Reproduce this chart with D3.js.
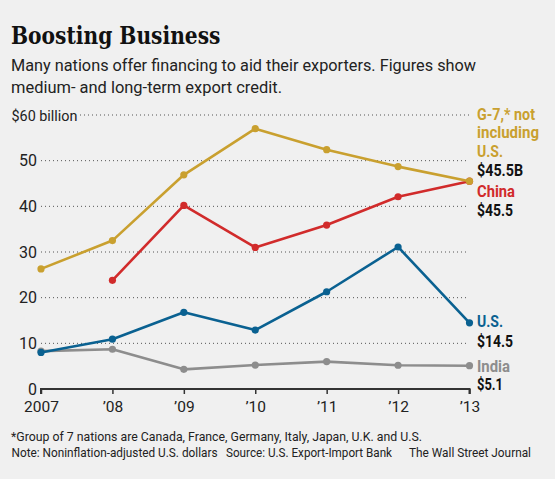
<!DOCTYPE html>
<html><head><meta charset="utf-8">
<script src="https://cdn.jsdelivr.net/npm/d3@7"></script>
<style>
body{margin:0;background:#f0f0f0;}
svg{display:block;}
text{font-family:Roboto,"Noto Sans",sans-serif;}
</style></head>
<body>
<svg id="c" width="555" height="479"></svg>
<script>
const years = [2007, 2008, 2009, 2010, 2011, 2012, 2013];
const yearLabels = ["2007", "’08", "’09", "’10", "’11", "’12", "’13"];
const g7 = [26.3, 32.5, 46.9, 57.0, 52.4, 48.7, 45.5];
const china = [null, 23.8, 40.2, 31.0, 35.9, 42.1, 45.5];
const us = [8.0, 10.9, 16.8, 12.9, 21.3, 31.1, 14.5];
const india = [8.3, 8.7, 4.3, 5.25, 6.0, 5.2, 5.1];
const yTicks = [0, 10, 20, 30, 40, 50, 60];
const endValues = ["$45.5B", "$45.5", "$14.5", "$5.1"];

const series = [
  {name:"G-7", values:g7, color:"#c9a02f"},
  {name:"China", values:china, color:"#d12b2b"},
  {name:"U.S.", values:us, color:"#0a6191"},
  {name:"India", values:india, color:"#8d8d8d"}
];

const svg = d3.select("#c");
svg.append("rect").attr("width",555).attr("height",479).attr("fill","#f0f0f0");

const x = d3.scaleLinear().domain([2007, 2013]).range([41, 469.5]);
const y = d3.scaleLinear().domain([0, 60]).range([389, 115]);

function txt(xp, yp, s, size, w, opts = {}) {
  const t = svg.append("text").attr("x", xp).attr("y", yp).text(s)
    .style("font-size", size + "px").attr("fill", opts.fill || "#222");
  if (opts.bold) t.style("font-weight", "bold");
  if (opts.family) t.style("font-family", opts.family);
  if (opts.anchor) t.attr("text-anchor", opts.anchor);
  if (w) t.attr("textLength", w).attr("lengthAdjust", "spacingAndGlyphs");
  return t;
}

// title + subtitle
txt(11, 43.5, "Boosting Business", 25, 209.5, {bold:true, family:"'DejaVu Serif',serif", fill:"#111"});
txt(11, 70.5, "Many nations offer financing to aid their exporters. Figures show", 16.5, 465);
txt(11, 92.5, "medium- and long-term export credit.", 16.5, 271);

// gridlines and y labels
yTicks.forEach(t => {
  if (t === 60) {
    txt(11.5, y(t) + 5.5, "$60 billion", 15.5, 66);
  } else {
    txt(37, y(t) + 5.5, String(t), 16, null, {anchor:"end"});
  }
  if (t > 0) {
    const x0 = t === 60 ? 80 : 41;
    svg.append("line").attr("x1", x0).attr("x2", 469).attr("y1", y(t)).attr("y2", y(t))
      .attr("stroke", "#555").attr("stroke-width", 1).attr("stroke-dasharray", "1,3");
  }
});

// x axis
const xAxis = d3.axisBottom(x).tickValues(years).tickSize(5).tickFormat((d,i)=>yearLabels[i]);
const xg = svg.append("g").attr("transform",`translate(0,${y(0)})`).call(xAxis);
xg.select(".domain").attr("stroke","#333").attr("stroke-width",2).attr("d",`M${x(2007)},5V0H${x(2013)}V5`);
xg.selectAll(".tick line").attr("stroke","#333").attr("stroke-width",1.5);
xg.selectAll(".tick text").attr("fill","#222").style("font-size","15.5px")
  .style("font-family","Roboto,sans-serif").attr("dy",null).attr("y",22.7);

// lines
const line = d3.line().defined(d => d.v != null).x(d => x(d.year)).y(d => y(d.v));
series.slice().reverse().forEach(s => {
  const pts = years.map((yr,i)=>({year:yr, v:s.values[i]}));
  svg.append("path").datum(pts).attr("d",line).attr("fill","none")
    .attr("stroke",s.color).attr("stroke-width",2.6).attr("stroke-linejoin","round");
  svg.selectAll(null).data(pts.filter(p=>p.v!=null)).enter().append("circle")
    .attr("cx",d=>x(d.year)).attr("cy",d=>y(d.v)).attr("r",3.6).attr("fill",s.color);
});

// end labels
const LX = 477, LS = 17;
const gold = series[0].color, red = series[1].color, blue = series[2].color, grey = series[3].color;
txt(LX, 119.5, "G-7,* not", LS, 58, {bold:true, fill:gold});
txt(LX, 138, "including", LS, 62, {bold:true, fill:gold});
txt(LX, 156.8, "U.S.", LS, 26, {bold:true, fill:gold});
txt(LX, 176, endValues[0], LS, 46, {bold:true, fill:"#111"});
txt(LX, 197, "China", LS, 38, {bold:true, fill:red});
txt(LX, 215.8, endValues[1], LS, 36, {bold:true, fill:"#111"});
txt(LX, 327, "U.S.", LS, 26, {bold:true, fill:blue});
txt(LX, 346.7, endValues[2], LS, 36, {bold:true, fill:"#111"});
txt(LX, 371.7, "India", LS, 33, {bold:true, fill:grey});
txt(LX, 390, endValues[3], LS, 26, {bold:true, fill:"#111"});

// footnotes
txt(11, 441, "*Group of 7 nations are Canada, France, Germany, Italy, Japan, U.K. and U.S.", 13, 411);
txt(11.5, 456.7, "Note: Noninflation-adjusted U.S. dollars", 13, 206);
txt(226, 456.7, "Source: U.S. Export-Import Bank", 13, 166);
txt(409, 456.7, "The Wall Street Journal", 13, 122);
</script>
</body></html>
